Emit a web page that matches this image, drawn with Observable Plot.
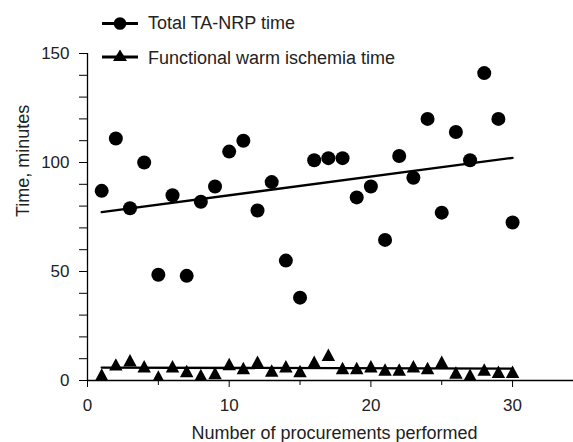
<!DOCTYPE html>
<html>
<head>
<meta charset="utf-8">
<script src="https://cdn.jsdelivr.net/npm/d3@7"></script>
<script src="https://cdn.jsdelivr.net/npm/@observablehq/plot@0.6"></script>
<style>
  body { margin: 0; background: white; }
  #wrap { position: relative; width: 573px; height: 442px; font-family: "Liberation Sans", Arial, sans-serif; color: #222; }
  .leg { position: absolute; left: 100px; height: 24px; display: flex; align-items: center; font-size: 18px; white-space: nowrap; }
  .leg svg { margin-right: 8px; }
</style>
</head>
<body>
<div id="wrap"></div>
<script>
const procurement = [1,2,3,4,5,6,7,8,9,10,11,12,13,14,15,16,17,18,19,20,21,22,23,24,25,26,27,28,29,30];
const totalTANRP = [87,111,79,100,48.5,85,48,82,89,105,110,78,91,55,38,101,102,102,84,89,64.5,103,93,120,77,114,101,141,120,72.5];
const warmIschemia = [2.7,7.4,9.3,6.5,1.8,6.5,4.4,2.5,3.4,7.6,5.7,8.6,4.6,6.5,4.4,8.6,11.8,5.7,5.7,6.5,5,5,6.5,5.7,8.6,3.7,2.6,5,4,4];
const seriesNames = ["Total TA-NRP time", "Functional warm ischemia time"];
const yMajorTicks = [0, 50, 100, 150];
const yMinorTicks = [10,20,30,40,60,70,80,90,110,120,130,140];
const xMajorTicks = [0, 10, 20, 30];
const xMinorTicks = [5, 15, 25];

const tanrp = procurement.map((n, i) => ({n, v: totalTANRP[i]}));
const fwit = procurement.map((n, i) => ({n, v: warmIschemia[i]}));

// triangle centred on its bounding box
const tri = {
  draw(context, size) {
    const r = Math.sqrt(size / Math.PI);
    const w = 2.1 * r, h = 1.95 * r;
    context.moveTo(0, -h / 2);
    context.lineTo(w / 2, h / 2);
    context.lineTo(-w / 2, h / 2);
    context.closePath();
  }
};

const chart = Plot.plot({
  width: 573,
  height: 442,
  marginLeft: 87,
  marginRight: 0,
  marginTop: 53,
  marginBottom: 62,
  style: {fontFamily: "Liberation Sans, Arial, sans-serif", fontSize: "17px", color: "#222", background: "white"},
  x: {domain: [0, 34.3]},
  y: {domain: [0, 150]},
  marks: [
    Plot.axisY({ticks: yMinorTicks, tickSize: 8, tickFormat: () => "", label: null, stroke: "black"}),
    Plot.axisY({ticks: yMajorTicks, tickSize: 8, tickPadding: 10, label: null, stroke: "black", fill: "#222"}),
    Plot.axisX({ticks: xMinorTicks, tickSize: 5, tickFormat: () => "", label: null, stroke: "black"}),
    Plot.axisX({ticks: xMajorTicks, tickSize: 7, tickPadding: 11, label: null, stroke: "black", fill: "#222"}),
    Plot.ruleX([0], {y1: 0, y2: 150, stroke: "black", strokeWidth: 1.3}),
    Plot.ruleY([0], {stroke: "black", strokeWidth: 1.3}),
    Plot.linearRegressionY(tanrp, {x: "n", y: "v", ci: 0, stroke: "black", strokeWidth: 2.3}),
    Plot.linearRegressionY(fwit, {x: "n", y: "v", ci: 0, stroke: "black", strokeWidth: 2.3}),
    Plot.dot(tanrp, {x: "n", y: "v", r: 7, fill: "black", stroke: "none"}),
    Plot.dot(fwit, {x: "n", y: "v", r: 6.4, symbol: tri, fill: "black", stroke: "none", clip: "frame"}),
    Plot.text(["Number of procurements performed"], {frameAnchor: "bottom", dy: 53, dx: 4, fontSize: 18, fill: "#222", lineAnchor: "middle"}),
    Plot.text(["Time, minutes"], {frameAnchor: "left", dx: -64, rotate: -90, fontSize: 18, fill: "#222", lineAnchor: "middle"})
  ]
});

const wrap = document.getElementById("wrap");
wrap.appendChild(chart);

function legendItem(name, top, symbolSvg) {
  const d = document.createElement("div");
  d.className = "leg";
  d.style.top = top + "px";
  d.innerHTML = symbolSvg + "<span>" + name + "</span>";
  wrap.appendChild(d);
}
legendItem(seriesNames[0], 11,
  '<svg width="40" height="24"><line x1="2" x2="38" y1="12.5" y2="12.5" stroke="black" stroke-width="3"/><circle cx="20" cy="12.5" r="6.3" fill="black"/></svg>');
legendItem(seriesNames[1], 46,
  '<svg width="40" height="24"><line x1="2" x2="38" y1="11" y2="11" stroke="black" stroke-width="3"/><path d="M20,3.5 L27,15 L13,15 Z" fill="black"/></svg>');
</script>
</body>
</html>
